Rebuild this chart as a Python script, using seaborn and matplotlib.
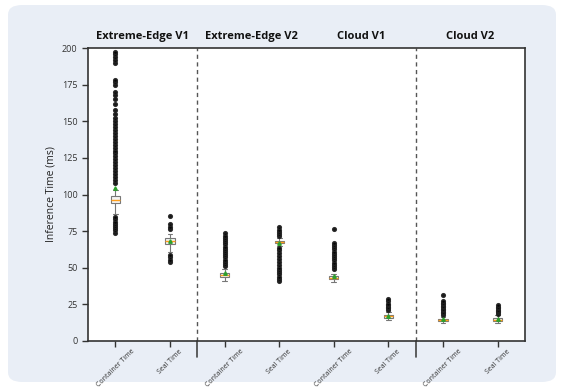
import numpy as np
import pandas as pd
import seaborn as sns
import matplotlib.pyplot as plt
from matplotlib.patches import FancyBboxPatch
from matplotlib.transforms import blended_transform_factory

# groups / tick labels
groups = ["Extreme-Edge V1", "Extreme-Edge V2", "Cloud V1", "Cloud V2"]
measures = ["Container Time", "Seal Time"]

# box core: whisker low, Q1, median, Q3, whisker high (ms)
ee1_container_box = [87, 94, 96.5, 99, 103]
ee1_seal_box = [61, 66, 68, 70, 73]
ee2_container_box = [41, 44, 45, 46.5, 49]
ee2_seal_box = [65, 66.8, 67.6, 68.4, 70]
cv1_container_box = [40, 42, 43, 44.5, 46]
cv1_seal_box = [14.5, 16, 17, 18, 20]
cv2_container_box = [12.5, 13.5, 14, 15, 16.5]
cv2_seal_box = [12.5, 13.8, 14.5, 15.5, 17.5]
box_counts = [1, 60, 60, 60, 1]

# outliers (ms)
ee1_container_out = [74, 75.5, 77, 78.5, 80, 81.5, 83, 84.5,
                     108, 110, 112, 114, 116, 118, 120, 122, 124, 126, 128, 130,
                     132, 134, 136, 138, 140, 142, 144, 146, 148, 150, 152,
                     155, 158, 162, 165, 168, 170, 175, 177, 178,
                     190, 192, 194, 196, 197]
ee1_seal_out = [54, 55.5, 57, 58.5, 76.5, 78, 80, 85]
ee2_container_out = [51, 52.5, 54, 55.5, 57, 58.5, 60, 61.5, 63, 64.5,
                     66, 67.5, 69, 70.5, 72, 73.5]
ee2_seal_out = [41, 42.5, 44, 45.5, 47, 48.5, 50, 52, 54, 56, 58, 60, 62, 63.5,
                71.5, 73, 74.5, 76, 77.5]
cv1_container_out = [49, 50.5, 52, 53.5, 55, 56.5, 58, 59.5, 61, 62.5,
                     64, 65.5, 67, 76.5]
cv1_seal_out = [21.5, 22.5, 23.5, 24.5, 25.5, 27, 28.5]
cv2_container_out = [18, 19, 20, 21, 22, 23, 24, 25, 26, 27.5, 31.5]
cv2_seal_out = [18.5, 19.5, 20.5, 21.5, 22.5, 23.5, 24.5]

series = [
    (ee1_container_box, ee1_container_out), (ee1_seal_box, ee1_seal_out),
    (ee2_container_box, ee2_container_out), (ee2_seal_box, ee2_seal_out),
    (cv1_container_box, cv1_container_out), (cv1_seal_box, cv1_seal_out),
    (cv2_container_box, cv2_container_out), (cv2_seal_box, cv2_seal_out),
]

rows = []
slots = []
for i, (box, out) in enumerate(series):
    slot = f"{groups[i // 2]} - {measures[i % 2]}"
    slots.append(slot)
    vals = list(np.repeat(box, box_counts)) + out
    rows += [(slot, v) for v in vals]
df = pd.DataFrame(rows, columns=["slot", "value"])

sns.set_style("ticks")
plt.rcParams["font.family"] = ["Open Sans", "DejaVu Sans"]

fig = plt.figure(figsize=(5.69, 3.89), dpi=100)
fig.patch.set_facecolor("white")
panel = FancyBboxPatch((8 / 569, 7 / 389), 548 / 569, 377 / 389,
                       boxstyle="round,pad=0,rounding_size=0.025",
                       transform=fig.transFigure, facecolor="#e9eef6",
                       edgecolor="none", zorder=-10)
fig.patches.append(panel)

ax = fig.add_axes([88 / 569, 1 - 341 / 389, 437 / 569, 293 / 389])
ax.set_facecolor("white")

sns.boxplot(data=df, x="slot", y="value", order=slots, ax=ax,
            width=0.17, color="#f4f4f4", linecolor="#777777", linewidth=0.8,
            fliersize=2.7,
            flierprops=dict(marker="o", markerfacecolor="black",
                            markeredgecolor="#222222", alpha=0.9),
            showmeans=True,
            meanprops=dict(marker="^", markerfacecolor="#2ca02c",
                           markeredgecolor="#2ca02c", markersize=2.5),
            medianprops=dict(color="#ff9f1c", linewidth=1))

ax.set_xlim(-0.5, 7.5)
ax.set_ylim(0, 200)
ax.set_yticks(np.arange(0, 201, 25))
ax.set_xticks(range(8))
ax.set_xticklabels([measures[i % 2] for i in range(8)], rotation=45,
                   ha="center", fontsize=5)
ax.tick_params(axis="y", labelsize=6.5, length=4, width=1, colors="#333333")
ax.tick_params(axis="x", length=4, width=1, colors="#333333", pad=1)
ax.set_xlabel("")
ax.set_ylabel("Inference Time (ms)", fontsize=7.5, color="#222222", labelpad=4)
for s in ax.spines.values():
    s.set_visible(True)
    s.set_color("#333333")
    s.set_linewidth(1.2)

# group separators
trans = blended_transform_factory(ax.transData, ax.transAxes)
for xs in [1.5, 5.5]:
    ax.axvline(xs, color="#555555", linestyle=(0, (3, 2.5)), linewidth=1)
    ax.plot([xs, xs], [0, -0.055], transform=trans, color="#444444",
            linewidth=1.2, clip_on=False)

for i, g in enumerate(groups):
    ax.text(2 * i + 0.5, 1.04, g, transform=trans, ha="center", va="center",
            fontsize=8, fontweight="bold", color="#111111")

fig.savefig("out.png", dpi=100)
